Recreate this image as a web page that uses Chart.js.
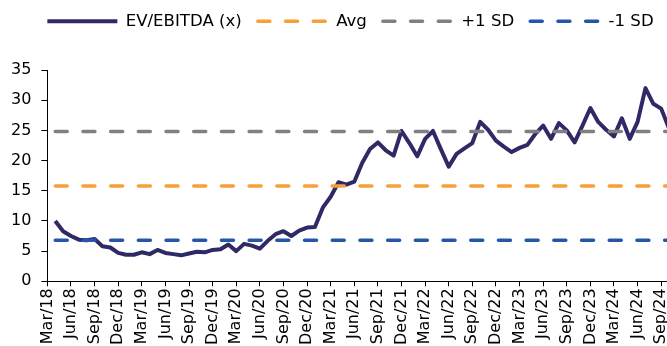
<!DOCTYPE html>
<html>
<head>
<meta charset="utf-8">
<script src="https://cdn.jsdelivr.net/npm/chart.js@4/dist/chart.umd.min.js"></script>
<style>
  html, body { margin: 0; padding: 0; background: #fff; }
  #wrap { width: 667px; height: 346px; overflow: hidden; position: relative; }
  canvas { display: block; }
</style>
</head>
<body>
<div id="wrap"><canvas id="chart" width="706" height="346"></canvas></div>
<script>
// quarter tick labels, one every 3 months from Mar/18
var tickLabels = ['Mar/18','Jun/18','Sep/18','Dec/18','Mar/19','Jun/19','Sep/19','Dec/19',
  'Mar/20','Jun/20','Sep/20','Dec/20','Mar/21','Jun/21','Sep/21','Dec/21',
  'Mar/22','Jun/22','Sep/22','Dec/22','Mar/23','Jun/23','Sep/23','Dec/23',
  'Mar/24','Jun/24','Sep/24'];

// monthly EV/EBITDA (x), Mar/18 .. Sep/24 (month-end readings)
var evEbitda = [10.0, 8.3, 7.5, 6.9, 6.8, 7.0, 5.8, 5.6, 4.7, 4.4,
  4.4, 4.8, 4.5, 5.2, 4.7, 4.5, 4.3, 4.6, 4.9, 4.8,
  5.2, 5.3, 6.1, 5.0, 6.2, 5.9, 5.4, 6.7, 7.8, 8.3,
  7.5, 8.4, 8.9, 9.0, 12.2, 14.0, 16.4, 16.0, 16.5, 19.6,
  21.9, 23.0, 21.7, 20.8, 24.9, 22.9, 20.7, 23.6, 24.9, 21.9,
  19.0, 21.1, 22.0, 22.9, 26.4, 25.1, 23.3, 22.3, 21.4, 22.1,
  22.6, 24.4, 25.8, 23.6, 26.2, 25.0, 23.0, 25.8, 28.7, 26.4,
  25.1, 24.0, 27.0, 23.6, 26.4, 32.0, 29.4, 28.6, 25.3];

var avgValue = 15.8;
var plusSD = 24.8;
var minusSD = 6.8;

// month-end values sit one month after the tick of their month
function points(vals) {
  return vals.map(function(v, i){ return {x: i + 1, y: v}; });
}
function flat(val) {
  return evEbitda.map(function(v, i){ return {x: i + 1, y: val}; });
}

Chart.defaults.font.family = '"DejaVu Sans", Verdana, sans-serif';
Chart.defaults.font.size = 16;
Chart.defaults.color = '#000';

var legendSpace = {
  id: 'legendSpace',
  beforeInit: function(chart){
    var fit = chart.legend.fit;
    chart.legend.fit = function(){
      fit.bind(chart.legend)();
      this.height = 73;
    };
  }
};

var dash = [12, 15.7];

new Chart(document.getElementById('chart'), {
  type: 'line',
  data: {
    datasets: [
      { label: 'EV/EBITDA (x)', data: points(evEbitda), borderColor: '#2f2a66', backgroundColor: '#2f2a66',
        borderWidth: 4, pointRadius: 0, borderJoinStyle: 'round', order: 1 },
      { label: 'Avg', data: flat(avgValue), borderColor: '#f7a03a', backgroundColor: '#f7a03a',
        borderWidth: 3.5, borderDash: dash, borderCapStyle: 'round', pointRadius: 0, order: 0 },
      { label: '+1 SD', data: flat(plusSD), borderColor: '#808080', backgroundColor: '#808080',
        borderWidth: 3.5, borderDash: dash, borderCapStyle: 'round', pointRadius: 0, order: 0 },
      { label: '-1 SD', data: flat(minusSD), borderColor: '#2357a8', backgroundColor: '#2357a8',
        borderWidth: 3.5, borderDash: dash, borderCapStyle: 'round', pointRadius: 0, order: 0 }
    ]
  },
  options: {
    responsive: false,
    animation: false,
    layout: { padding: { left: 1, right: 6, top: -3, bottom: -1 } },
    plugins: {
      tooltip: { enabled: false },
      legend: {
        position: 'top',
        labels: {
          usePointStyle: true,
          pointStyle: 'line',
          pointStyleWidth: 70,
          boxHeight: 16,
          padding: 16,
          font: { size: 16.6 },
          sort: function(a, b){ return a.datasetIndex - b.datasetIndex; },
          // point style items lose the dataset dash, put it back
          generateLabels: function(chart){
            var items = Chart.defaults.plugins.legend.labels.generateLabels(chart);
            items.forEach(function(it){
              var ds = chart.data.datasets[it.datasetIndex];
              it.lineDash = ds.borderDash || [];
              it.lineCap = ds.borderCapStyle || 'butt';
              it.lineWidth = ds.borderWidth;
            });
            return items;
          }
        }
      }
    },
    scales: {
      x: {
        type: 'linear',
        min: 0,
        max: 81,
        grid: { drawOnChartArea: false, drawTicks: true, tickLength: 5, color: '#000' },
        border: { display: true, color: '#000' },
        ticks: {
          stepSize: 3,
          autoSkip: false,
          includeBounds: false,
          minRotation: 90,
          maxRotation: 90,
          padding: 2,
          callback: function(v){ return tickLabels[v / 3] || ''; }
        }
      },
      y: {
        min: 0,
        max: 35,
        grid: { drawOnChartArea: false, drawTicks: true, tickLength: 6, color: '#000' },
        border: { display: true, color: '#000' },
        ticks: { stepSize: 5, padding: 10 }
      }
    }
  },
  plugins: [legendSpace]
});
</script>
</body>
</html>
